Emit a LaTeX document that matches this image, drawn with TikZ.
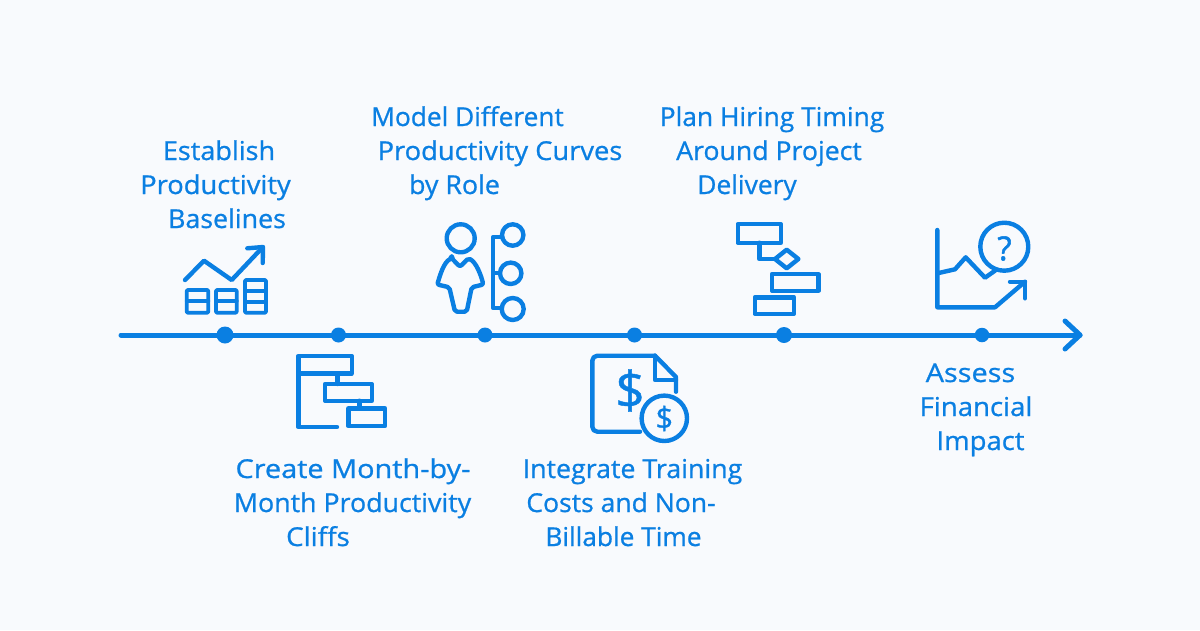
\documentclass[tikz,border=0pt]{standalone}
\usepackage{fontspec}
\setmainfont{Open Sans}
\newfontfamily\lblfont[FakeBold=0.8]{Open Sans}
\newfontfamily\symfont[FakeBold=1.6]{Open Sans}
\definecolor{bg}{HTML}{F8FAFD}
\definecolor{blue}{HTML}{0A7FE2}
\newcommand{\wdn}[2]{\scalebox{#1}[1]{#2}}
\tikzset{
  lbl/.style={text=blue,anchor=base,inner sep=0pt,font=\lblfont\fontsize{26}{30}\selectfont},
  axisline/.style={draw=blue,line width=5pt,line cap=round,line join=round},
  icon/.style={draw=blue,line width=4.4pt,line cap=round,line join=round},
  thinicon/.style={draw=blue,line width=3.8pt,line cap=round,line join=round},
  dot/.style={circle,fill=blue,inner sep=0pt},
  sym/.style={text=blue,inner sep=0pt}
}
\begin{document}
\begin{tikzpicture}[x=1pt,y=-1pt]
\path[fill=bg] (0,0) rectangle (1200,630);
\useasboundingbox (0,0) rectangle (1200,630);
% axis
\coordinate (axs) at (121,335);
\coordinate (axe) at (1080,335);
\coordinate (ah1) at (1065,321);
\coordinate (ah2) at (1065,349);
\draw[axisline] (axs) -- (axe);
\draw[axisline] (ah1) -- (axe) -- (ah2);
\node[dot,minimum size=17pt] (d1) at (225,335) {};
\node[dot,minimum size=15pt] (d2) at (338.5,335) {};
\node[dot,minimum size=15pt] (d3) at (485,335) {};
\node[dot,minimum size=15pt] (d4) at (634.5,335) {};
\node[dot,minimum size=16pt] (d5) at (784,335) {};
\node[dot,minimum size=14.5pt] (d6) at (982,335) {};
% labels
\node[lbl] (t1a) at (219,160) {\wdn{1.04}{Establish}};
\node[lbl] (t1b) at (215.5,194) {\wdn{1.05}{Productivity}};
\node[lbl] (t1c) at (227,228) {\wdn{1.03}{Baselines}};
\node[lbl] (t2a) at (353,478) {\wdn{1.11}{Create Month-by-}};
\node[lbl] (t2b) at (352.5,512) {\wdn{1.03}{Month Productivity}};
\node[lbl] (t2c) at (318,546) {\wdn{1.07}{Cliffs}};
\node[lbl] (t3a) at (467.5,126) {\wdn{1.01}{Model Different}};
\node[lbl] (t3b) at (500,160) {\wdn{1.05}{Productivity Curves}};
\node[lbl] (t3c) at (454.5,194) {\wdn{1.03}{by Role}};
\node[lbl] (t4a) at (632.5,478) {\wdn{1.03}{Integrate Training}};
\node[lbl] (t4b) at (621,512) {\wdn{1.02}{Costs and Non-}};
\node[lbl] (t4c) at (623.5,546) {\wdn{1.01}{Billable Time}};
\node[lbl] (t5a) at (772,126) {\wdn{1.015}{Plan Hiring Timing}};
\node[lbl] (t5b) at (769,160) {\wdn{1.025}{Around Project}};
\node[lbl] (t5c) at (747,194) {\wdn{1.015}{Delivery}};
\node[lbl] (t6a) at (970.5,382) {\wdn{1.11}{Assess}};
\node[lbl] (t6b) at (976,416) {\wdn{1.06}{Financial}};
\node[lbl] (t6c) at (980.5,450) {\wdn{1.055}{Impact}};
% icon 1
\draw[icon] (185,280) -- (204,260.7) -- (231.7,280) -- (261.7,248.3);
\draw[icon] (247.3,248.3) -- (263,247) -- (262.7,263);
\draw[thinicon,rounded corners=1pt] (186.7,290) rectangle (208.3,312.7);
\draw[thinicon] (186.7,301) -- (208.3,301);
\draw[thinicon,rounded corners=1pt] (216,290) rectangle (236.7,312.7);
\draw[thinicon] (216,301) -- (236.7,301);
\draw[thinicon,rounded corners=1pt] (245,280) rectangle (266,312.7);
\draw[thinicon] (245,290.7) -- (266,290.7) (245,301.7) -- (266,301.7);
% icon 2
\draw[icon] (337,427) -- (298.3,427) -- (298.3,356) -- (351.7,356) -- (351.7,373.3) -- (298.3,373.3);
\draw[icon] (337.3,373.3) -- (337.3,384);
\draw[icon] (325,384) rectangle (371.7,400.7);
\draw[icon] (359.3,400.7) -- (359.3,408.3);
\draw[icon] (348.3,408.3) rectangle (385,426);
% icon 3
\draw[icon] (460.7,238.3) circle (14);
\draw[icon,rounded corners=2pt] (451.7,258.3) -- (460,266.7) -- (468.3,258.3)
  .. controls (476,262) and (481,275) .. (483.3,284.5) -- (471.7,287.3) -- (466.7,311.7) -- (455,311.7) -- (449.3,287.3) -- (437.3,284.5)
  .. controls (440,275) and (444,262) .. (451.7,258.3) -- cycle;
\draw[thinicon] (501.7,236.7) -- (493.3,236.7) -- (493.3,308.3) -- (501.7,308.3);
\draw[thinicon] (493.3,273.3) -- (500,273.3);
\draw[icon] (512.7,235) circle (10.7);
\draw[icon] (510.7,273.3) circle (10.7);
\draw[icon] (512.7,309) circle (11);
% icon 4
\draw[icon,rounded corners=5pt] (640,431.7) -- (592.3,431.7) -- (592.3,355.7) -- (655,355.7);
\draw[icon] (655,355.7) -- (676,377) -- (676,391.7);
\draw[icon] (655,355.7) -- (655,380) -- (676,380);
\node[sym,font=\lblfont\fontsize{52}{52}\selectfont] (bigd) at (630,390.5) {\$};
\draw[icon] (664.3,418.3) circle (22.7);
\node[sym,font=\lblfont\fontsize{31}{31}\selectfont] (smalld) at (664.3,418.5) {\$};
% icon 5
\draw[icon] (737.7,224) rectangle (780.7,242.7);
\draw[icon] (759.3,242.7) -- (759.3,259) -- (775,259);
\draw[icon] (775,259) -- (786.7,249.7) -- (798.4,259) -- (786.7,268.3) -- cycle;
\draw[icon] (772,274) rectangle (818.3,290.7);
\draw[icon] (754.7,297.3) rectangle (794,313.7);
% icon 6
\draw[icon] (937.3,230) -- (937.3,307.3) -- (995,307.3) -- (1025,281.7);
\draw[icon] (1010,281.7) -- (1025,281.7) -- (1025,298.3);
\draw[icon] (937.3,273.3) -- (955,269.3) -- (965.7,257.3) -- (985,277.7) -- (995,270.7);
\draw[icon] (1004.3,246.7) circle (24);
\node[sym,font=\symfont\fontsize{33}{33}\selectfont] (qm) at (1004.5,248.5) {?};
\end{tikzpicture}
\end{document}
